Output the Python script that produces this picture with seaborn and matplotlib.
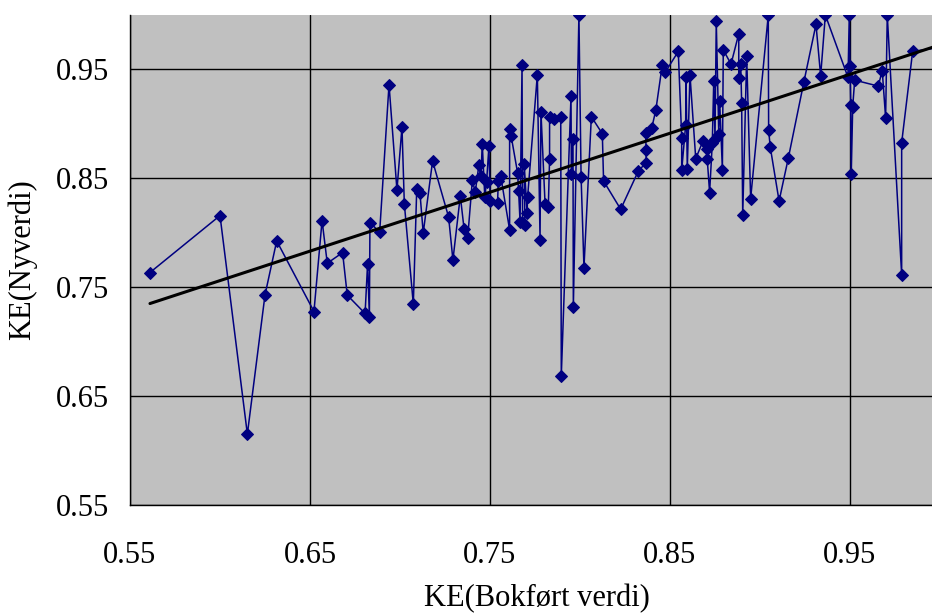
import numpy as np
import pandas as pd
import matplotlib
matplotlib.use("Agg")
import matplotlib.pyplot as plt
import seaborn as sns

# KE computed from book values (x) against KE computed from replacement values (y),
# listed in the order the series is connected.
ke_bokfort = [
    0.5611, 0.6000, 0.6152, 0.6250, 0.6315, 0.6522, 0.6567, 0.6596, 0.6681, 0.6707,
    0.6806, 0.6820, 0.6830, 0.6833, 0.6887, 0.6939, 0.6983, 0.7011, 0.7024, 0.7074,
    0.7093, 0.7111, 0.7129, 0.7181, 0.7270, 0.7294, 0.7335, 0.7356, 0.7376, 0.7402,
    0.7418, 0.7438, 0.7450, 0.7457, 0.7471, 0.7481, 0.7494, 0.7501, 0.7542, 0.7546,
    0.7559, 0.7609, 0.7609, 0.7617, 0.7653, 0.7659, 0.7667, 0.7678, 0.7681, 0.7694,
    0.7690, 0.7706, 0.7709, 0.7763, 0.7778, 0.7783, 0.7806, 0.7824, 0.7831, 0.7831,
    0.7856, 0.7893, 0.7896, 0.7950, 0.7952, 0.7961, 0.7963, 0.7994, 0.8006, 0.8022,
    0.8063, 0.8124, 0.8131, 0.8226, 0.8324, 0.8367, 0.8367, 0.8365, 0.8398, 0.8421,
    0.8457, 0.8474, 0.8546, 0.8565, 0.8565, 0.8587, 0.8589, 0.8596, 0.8611, 0.8643,
    0.8683, 0.8704, 0.8707, 0.8720, 0.8735, 0.8743, 0.8750, 0.8757, 0.8771, 0.8776,
    0.8791, 0.8796, 0.8839, 0.8882, 0.8882, 0.8893, 0.8898, 0.8904, 0.8926, 0.8948,
    0.9046, 0.9048, 0.9057, 0.9106, 0.9157, 0.9244, 0.9311, 0.9337, 0.9363, 0.9489,
    0.9496, 0.9500, 0.9504, 0.9507, 0.9515, 0.9526, 0.9657, 0.9679, 0.9698, 0.9707,
    0.9787, 0.9787, 0.9848, 0.9990,
]
ke_nyverdi = [
    0.7635, 0.8158, 0.6151, 0.7429, 0.7925, 0.7277, 0.8112, 0.7720, 0.7818, 0.7427,
    0.7259, 0.7717, 0.7231, 0.8094, 0.8005, 0.9360, 0.8393, 0.8971, 0.8268, 0.7344,
    0.8405, 0.8362, 0.7998, 0.8659, 0.8145, 0.7750, 0.8338, 0.8036, 0.7953, 0.8483,
    0.8373, 0.8620, 0.8525, 0.8818, 0.8332, 0.8465, 0.8795, 0.8292, 0.8275, 0.8473,
    0.8526, 0.8027, 0.8950, 0.8893, 0.8553, 0.8381, 0.8102, 0.9540, 0.8090, 0.8075,
    0.8631, 0.8186, 0.8330, 0.9451, 0.7938, 0.9112, 0.8262, 0.8234, 0.8680, 0.9066,
    0.9048, 0.9066, 0.6683, 0.9255, 0.8543, 0.8858, 0.7317, 1.0000, 0.8516, 0.7681,
    0.9066, 0.8910, 0.8475, 0.8216, 0.8567, 0.8644, 0.8757, 0.8916, 0.8959, 0.9124,
    0.9540, 0.9476, 0.9665, 0.8873, 0.8573, 0.8990, 0.9434, 0.8589, 0.9450, 0.8681,
    0.8842, 0.8772, 0.8674, 0.8369, 0.8824, 0.9393, 0.8865, 0.9943, 0.8910, 0.9206,
    0.8580, 0.9680, 0.9549, 0.9828, 0.9420, 0.9549, 0.9195, 0.8160, 0.9622, 0.8314,
    1.0000, 0.8940, 0.8787, 0.8292, 0.8683, 0.9387, 0.9913, 0.9442, 1.0000, 0.9427,
    1.0000, 0.9528, 0.9176, 0.8543, 0.9158, 0.9402, 0.9347, 0.9490, 0.9053, 1.0000,
    0.7613, 0.8827, 0.9665, 0.9700,
]

# linear trend line (intercept, slope)
trend_intercept = 0.4313
trend_slope = 0.5413

tick_values = [0.55, 0.65, 0.75, 0.85, 0.95]
tick_labels = ["0.55", "0.65", "0.75", "0.85", "0.95"]
x_title = "KE(Bokført verdi)"
y_title = "KE(Nyverdi)"

sns.set_style("white")
plt.rcParams["font.family"] = ["Liberation Serif", "DejaVu Serif"]
plt.rcParams["text.color"] = "black"
plt.rcParams["axes.labelcolor"] = "black"

df = pd.DataFrame({"bok": ke_bokfort, "ny": ke_nyverdi})
trend_x = np.array([min(ke_bokfort), max(ke_bokfort)])
trend = pd.DataFrame({"bok": trend_x, "ny": trend_intercept + trend_slope * trend_x})

fig = plt.figure(figsize=(9.32, 6.16), dpi=100)
# plot area runs slightly past the right edge of the canvas
ax = fig.add_axes([130 / 932, 111 / 616, 810 / 932, 490 / 616])
ax.set_facecolor("#C0C0C0")

sns.lineplot(
    data=df, x="bok", y="ny", sort=False, estimator=None, ax=ax,
    color="#000080", linewidth=1.1, marker="D", markersize=6,
    markeredgecolor="#000080", zorder=3,
)
sns.lineplot(
    data=trend, x="bok", y="ny", sort=False, estimator=None, ax=ax,
    color="black", linewidth=2.2, zorder=4,
)

ax.set_xlim(0.55, 1.0)
ax.set_ylim(0.55, 1.0)
ax.set_xticks(tick_values)
ax.set_xticklabels(tick_labels)
ax.set_yticks(tick_values)
ax.set_yticklabels(tick_labels)

ax.grid(True, color="black", linewidth=1.0, zorder=1)
ax.set_axisbelow(True)

for side in ("top", "right"):
    ax.spines[side].set_visible(False)
for side in ("left", "bottom"):
    ax.spines[side].set_color("black")
    ax.spines[side].set_linewidth(1.0)

ax.tick_params(axis="both", direction="out", length=8, width=1, colors="black",
               labelsize=22)
ax.tick_params(axis="x", pad=18)
ax.tick_params(axis="y", pad=7)

ax.set_xlabel(x_title, fontsize=22, color="black")
ax.set_ylabel(y_title, fontsize=22, color="black")
ax.xaxis.set_label_coords((537 - 130) / 810, (505 - 584) / 490)
ax.yaxis.set_label_coords((37 - 130) / 810, 0.5)

fig.savefig("out.png", dpi=100)
